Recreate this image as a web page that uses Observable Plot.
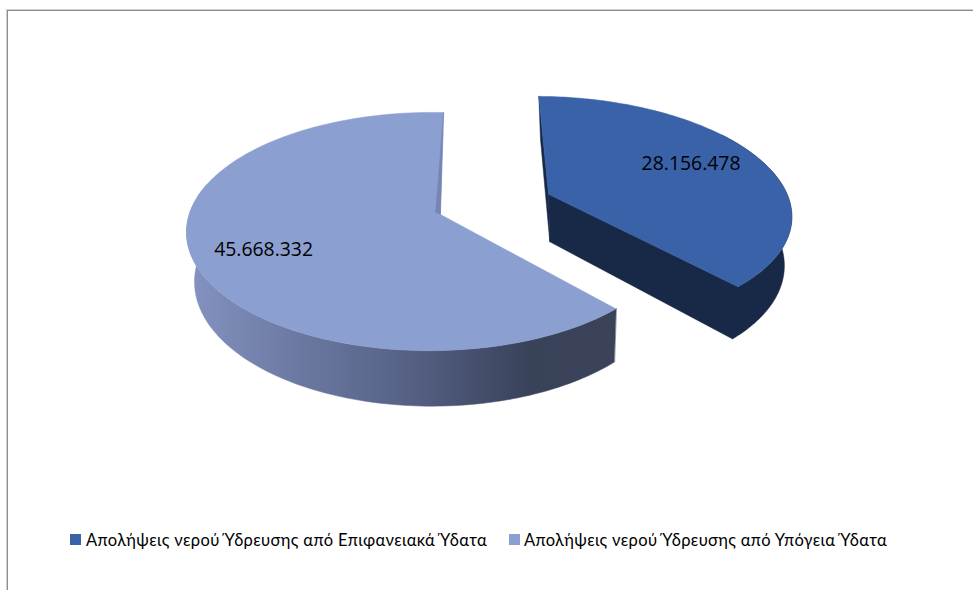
<!DOCTYPE html>
<html lang="el">
<head>
<meta charset="utf-8">
<script src="https://cdn.jsdelivr.net/npm/d3@7"></script>
<script src="https://cdn.jsdelivr.net/npm/@observablehq/plot@0.6"></script>
<style>
html,body{margin:0;padding:0;background:#fff}
#page{position:relative;width:973px;height:590px;overflow:hidden}
#frame{position:absolute;left:7px;top:10px;right:-10px;bottom:-10px;border-top:1px solid #8f8f8f;border-left:1px solid #8f8f8f;box-shadow:-1px -1px 0 #cfcfcf}
#chart{position:absolute;left:0;top:0}
#legend{position:absolute;left:0;top:528px;width:973px;height:24px;font-family:"Lato","Open Sans","Noto Sans",sans-serif;font-size:16.5px;line-height:24px;color:#000}
.sw{position:absolute;top:6px;width:11px;height:11px}
.lb{position:absolute;top:0;white-space:nowrap}
</style>
</head>
<body>
<div id="page"><div id="frame"></div><div id="chart"></div><div id="legend"></div></div>
<script>
const categories = ["Απολήψεις νερού Ύδρευσης από Επιφανειακά Ύδατα", "Απολήψεις νερού Ύδρευσης από Υπόγεια Ύδατα"];
const values = [28156478, 45668332];
const topColors = ["#3A62A9", "#8C9FD1"];
const wallColors = ["#172947", "url(#sideGradient)"];
const sliverColors = ["#172947", "#7686B4"];
const explosion = [0.46, 0];
const labelRadius = [0.70, 0.74];
const labelAngleOffset = [-3.6, -2];
const wallFromAngle = [55, 138];
const wallToAngle = [138.1, 285];
const undersideScale = [0.964, 0.977];
const undersideFixedX = [583, 535];
const viewRx = [244, 241.5];
const viewKx = [0, 0.039];
const viewDx = [5.3, 0];
const viewDy = [-2, 0];
const legendSwatchX = [70, 509];
const legendTextX = [86, 524];
const legendTextWidth = [401, 363];
const gradientStops = [[0, "#8493C0"], [0.25, "#6C7AA3"], [0.55, "#525D80"], [0.8, "#384259"], [1, "#3B4358"]];

const firstAngle = 0.8; // degrees clockwise from the back of the pie
const total = d3.sum(values);
const fmt = d3.formatLocale({decimal: ",", thousands: ".", grouping: [3], currency: ["", ""]}).format(",d");
const rad = d => d * Math.PI / 180;

// perspective view of the pie plane; depth 1 gives the underside
const view = {cx: 440, cy: 214, ry: 116.6, ky: 1 / 7};
function project(px, py, i, depth = 0) {
  const w = 1 - view.ky * py + viewKx[i] * px;
  let x = view.cx + viewDx[i] + viewRx[i] * px / w;
  let y = view.cy + viewDy[i] + view.ry * py / w;
  if (depth) {
    x = undersideFixedX[i] + (x - undersideFixedX[i]) * undersideScale[i];
    y = 1.05 * y + 38;
  }
  return {x, y};
}

let a = firstAngle;
const slices = values.map((v, i) => {
  const sweep = v / total * 360, start = a, end = a + sweep;
  a = end;
  const mid = rad((start + end) / 2);
  const ox = explosion[i] * Math.sin(mid), oy = -explosion[i] * Math.cos(mid);
  const at = (deg, r = 1) => [ox + r * Math.sin(rad(deg)), oy - r * Math.cos(rad(deg))];
  const arc = (from, to, depth) => d3.range(0, 121).map(t => {
    const p = at(from + (to - from) * t / 120);
    return project(p[0], p[1], i, depth);
  });
  const apex = project(ox, oy, i), apexB = project(ox, oy, i, 1);
  const lp = at((start + end) / 2 + labelAngleOffset[i], labelRadius[i]);
  const sp = at(start), sT = project(sp[0], sp[1], i), sB = project(sp[0], sp[1], i, 1);
  return {
    i, apex, apexB, sT, sB,
    arcTop: arc(start, end, 0),
    wallTop: arc(wallFromAngle[i], Math.min(end, wallToAngle[i]), 0),
    wallBottom: arc(wallFromAngle[i], Math.min(end, wallToAngle[i]), 1),
    label: {...project(lp[0], lp[1], i), text: fmt(v)}
  };
});

const poly = (pts, fill) => Plot.line(pts, {x: "x", y: "y", fill, stroke: fill, strokeWidth: 0.5, curve: "linear-closed"});

function sliceMarks(s) {
  const marks = [];
  if (s.i === 0) {
    marks.push(poly([...s.wallTop, s.apex, s.apexB, ...s.wallBottom.slice().reverse()], wallColors[0]));
    marks.push(poly([s.sT, s.apex, s.apexB, s.sB], sliverColors[0]));
  } else {
    marks.push(poly([...s.wallTop, ...s.wallBottom.slice().reverse()], wallColors[1]));
  }
  marks.push(poly([s.apex, ...s.arcTop], topColors[s.i]));
  if (s.i === 1) {
    const e = s.arcTop[120];
    const lerp = t => ({x: s.apex.x + (e.x - s.apex.x) * t, y: s.apex.y + (e.y - s.apex.y) * t});
    const m1 = lerp(0.5), m2 = lerp(0.8);
    marks.push(poly([e, s.apex, {x: s.apex.x - 5, y: s.apex.y - 2}, {x: m1.x - 2.5, y: m1.y}, {x: m2.x - 1, y: m2.y}], sliverColors[1]));
  }
  return marks;
}

const defs = () => {
  const svg = d3.create("svg:defs");
  const g = svg.append("linearGradient").attr("id", "sideGradient").attr("gradientUnits", "userSpaceOnUse")
    .attr("x1", 186).attr("x2", 616).attr("y1", 0).attr("y2", 0);
  gradientStops.forEach(([o, c]) => g.append("stop").attr("offset", o).attr("stop-color", c));
  return svg.node();
};

const plot = Plot.plot({
  width: 973, height: 520, margin: 0,
  style: {background: "transparent", overflow: "visible"},
  x: {domain: [0, 973], range: [0, 973], axis: null},
  y: {domain: [0, 520], range: [0, 520], axis: null},
  marks: [
    defs,
    ...sliceMarks(slices[1]),
    ...sliceMarks(slices[0]),
    Plot.text(slices.map(s => s.label), {
      x: "x", y: "y", text: "text", fill: "#000",
      fontFamily: "Open Sans, Noto Sans, sans-serif", fontSize: 19.4, textAnchor: "middle"
    })
  ]
});
document.getElementById("chart").append(plot);

const legend = d3.select("#legend");
categories.forEach((c, i) => {
  legend.append("div").attr("class", "sw").style("left", legendSwatchX[i] + "px").style("background", topColors[i]);
  const lb = legend.append("div").attr("class", "lb").style("left", legendTextX[i] + "px").text(c);
  const natural = lb.node().getBoundingClientRect().width;
  lb.style("letter-spacing", ((legendTextWidth[i] - natural) / c.length) + "px");
});
</script>
</body>
</html>
